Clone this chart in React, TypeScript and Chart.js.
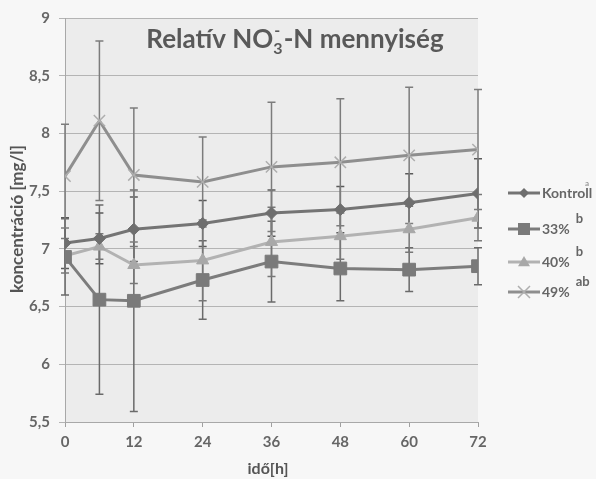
import React, { useEffect, useRef } from "react";
import { Chart, registerables } from "chart.js";
Chart.register(...registerables);

const hours = [0, 6, 12, 24, 36, 48, 60, 72];
const xTicks = [0, 12, 24, 36, 48, 60, 72];
const seriesNames = ["Kontroll", "33%", "40%", "49%"];
const significance = ["a", "b", "b", "ab"];
const kontroll = [7.05, 7.09, 7.17, 7.22, 7.31, 7.34, 7.4, 7.48];
const kontrollErr = [0.22, 0.22, 0.28, 0.2, 0.2, 0.2, 0.25, 0.3];
const p33 = [6.93, 6.56, 6.55, 6.73, 6.89, 6.83, 6.82, 6.85];
const p33Err = [0.33, 0.82, 0.96, 0.34, 0.35, 0.28, 0.19, 0.16];
const p40 = [6.94, 7.02, 6.86, 6.9, 7.06, 7.11, 7.17, 7.27];
const p40Err = [0.15, 0.11, 0.16, 0.35, 0.3, 0.2, 0.2, 0.2];
const p49 = [7.63, 8.11, 7.64, 7.58, 7.71, 7.75, 7.81, 7.86];
const p49Err = [0.45, 0.69, 0.58, 0.39, 0.56, 0.55, 0.59, 0.52];
const yMin = 5.5;
const yMax = 9;
const yStep = 0.5;

const values = [kontroll, p33, p40, p49];
const errors = [kontrollErr, p33Err, p40Err, p49Err];
const lineColors = ["#747474", "#7c7c7c", "#b2b2b2", "#8e8e8e"];
const markerColors = ["#6e6e6e", "#7a7a7a", "#a8a8a8", "#aeaeae"];
const errColors = ["#5a5a5a", "#6a6a6a", "#777777", "#7c7c7c"];
const markerStyles = ["rectRot", "rect", "triangle", "crossRot"];
const markerRadius = [6, 9, 7, 8];
const FONT = "Lato, 'Open Sans', sans-serif";

function drawMarker(ctx: any, style: string, x: number, y: number, r: number, color: string) {
  ctx.save();
  ctx.fillStyle = color;
  ctx.strokeStyle = color;
  ctx.beginPath();
  if (style === "rectRot") {
    ctx.moveTo(x, y - r);
    ctx.lineTo(x + r, y);
    ctx.lineTo(x, y + r);
    ctx.lineTo(x - r, y);
    ctx.closePath();
    ctx.fill();
  } else if (style === "rect") {
    ctx.rect(x - r, y - r, 2 * r, 2 * r);
    ctx.fill();
  } else if (style === "triangle") {
    ctx.moveTo(x, y - r);
    ctx.lineTo(x + r, y + r * 0.7);
    ctx.lineTo(x - r, y + r * 0.7);
    ctx.closePath();
    ctx.fill();
  } else {
    ctx.lineWidth = 1.5;
    ctx.moveTo(x - r, y - r);
    ctx.lineTo(x + r, y + r);
    ctx.moveTo(x + r, y - r);
    ctx.lineTo(x - r, y + r);
    ctx.stroke();
  }
  ctx.restore();
}

const bgPlugin = {
  id: "bg",
  beforeDraw(chart: any) {
    const { ctx, chartArea: a } = chart;
    ctx.save();
    ctx.fillStyle = "#f7f7f7";
    ctx.fillRect(0, 0, chart.width, chart.height);
    ctx.fillStyle = "#ececec";
    ctx.fillRect(a.left, a.top, a.right - a.left, a.bottom - a.top);
    ctx.restore();
  },
};

const errPlugin = {
  id: "errbars",
  beforeDatasetsDraw(chart: any) {
    const { ctx, scales } = chart;
    ctx.save();
    values.forEach((vals, s) => {
      ctx.strokeStyle = errColors[s];
      ctx.lineWidth = 1.5;
      vals.forEach((v, i) => {
        const x = scales.x.getPixelForValue(hours[i]);
        const yt = scales.y.getPixelForValue(v + errors[s][i]);
        const yb = scales.y.getPixelForValue(v - errors[s][i]);
        ctx.beginPath();
        ctx.moveTo(x, yt);
        ctx.lineTo(x, yb);
        ctx.moveTo(x - 4, yt);
        ctx.lineTo(x + 4, yt);
        ctx.moveTo(x - 4, yb);
        ctx.lineTo(x + 4, yb);
        ctx.stroke();
      });
    });
    ctx.restore();
  },
};

const textPlugin = {
  id: "texts",
  afterDraw(chart: any) {
    const { ctx, chartArea: a } = chart;
    ctx.save();
    // title
    ctx.fillStyle = "#595959";
    ctx.textBaseline = "alphabetic";
    ctx.textAlign = "left";
    const big = `bold 26px ${FONT}`;
    const small = `bold 16px ${FONT}`;
    const p1 = "Relatív NO";
    const p3 = "-N mennyiség";
    ctx.font = big;
    const w1 = ctx.measureText(p1).width;
    const w3 = ctx.measureText(p3).width;
    ctx.font = small;
    const w2 = ctx.measureText("3").width + 1;
    const total = w1 + w2 + w3;
    let x = 295 - total / 2;
    const base = 48;
    ctx.font = big;
    ctx.fillText(p1, x, base);
    x += w1;
    ctx.font = small;
    ctx.fillText("3", x, base + 6);
    ctx.fillText("-", x + 1, base - 12);
    x += w2;
    ctx.font = big;
    ctx.fillText(p3, x, base);

    // axis titles
    ctx.fillStyle = "#555555";
    ctx.textAlign = "center";
    ctx.textBaseline = "middle";
    ctx.font = `bold 16px ${FONT}`;
    ctx.fillText("idő[h]", 268, 469);
    ctx.save();
    ctx.translate(18, 219);
    ctx.rotate(-Math.PI / 2);
    ctx.font = `bold 17px ${FONT}`;
    ctx.fillText("koncentráció [mg/l]", 0, 0);
    ctx.restore();

    // legend
    const rows = [193, 229, 262, 292];
    seriesNames.forEach((name, i) => {
      const y = rows[i];
      ctx.strokeStyle = lineColors[i];
      ctx.lineWidth = 3;
      ctx.beginPath();
      ctx.moveTo(508, y);
      ctx.lineTo(540, y);
      ctx.stroke();
      drawMarker(ctx, markerStyles[i], 524, y, [5, 6, 6, 6][i], markerColors[i]);
      ctx.fillStyle = "#666666";
      ctx.font = `bold 14px ${FONT}`;
      ctx.textAlign = "left";
      ctx.textBaseline = "middle";
      ctx.fillText(name, 542, y);
      const tw = ctx.measureText(name).width;
      if (i === 0) {
        ctx.font = `bold 8px ${FONT}`;
        ctx.fillStyle = "#9a9a9a";
        ctx.fillText(significance[i], 585, y - 10);
      } else {
        ctx.font = `bold 13px ${FONT}`;
        ctx.fillStyle = "#666666";
        ctx.fillText(significance[i], 542 + tw + 6, y - 10);
      }
    });
    ctx.restore();
  },
};

export default function App() {
  const ref = useRef<HTMLCanvasElement>(null);
  useEffect(() => {
    if (!ref.current) return;
    const chart = new Chart(ref.current, {
      type: "line",
      data: {
        datasets: values.map((vals, s) => ({
          label: seriesNames[s],
          data: vals.map((v, i) => ({ x: hours[i], y: v })),
          borderColor: lineColors[s],
          backgroundColor: markerColors[s],
          pointBackgroundColor: markerColors[s],
          pointBorderColor: markerColors[s],
          pointStyle: markerStyles[s] as any,
          pointRadius: markerRadius[s],
          pointBorderWidth: markerStyles[s] === "crossRot" ? 1.5 : 1,
          borderWidth: 3,
          tension: 0,
          fill: false,
        })),
      },
      options: {
        animation: false,
        responsive: false,
        devicePixelRatio: 1,
        layout: { padding: { top: 15, right: 118, left: 0, bottom: 0 } },
        plugins: {
          legend: { display: false },
          tooltip: { enabled: false },
          title: { display: false },
        },
        scales: {
          x: {
            type: "linear",
            min: 0,
            max: 72,
            afterBuildTicks: (scale: any) => {
              scale.ticks = xTicks.map((v) => ({ value: v }));
            },
            afterFit: (scale: any) => {
              scale.height = 57;
            },
            ticks: {
              color: "#666666",
              font: { family: FONT, size: 15, weight: "bold" },
              padding: 6,
              maxRotation: 0,
            },
            grid: {
              drawOnChartArea: false,
              drawTicks: true,
              tickLength: 5,
              color: "#a0a0a0",
            },
            border: { color: "#a8a8a8", width: 1 },
          },
          y: {
            type: "linear",
            min: yMin,
            max: yMax,
            ticks: {
              stepSize: yStep,
              color: "#666666",
              font: { family: FONT, size: 15, weight: "bold" },
              padding: 9,
              callback: (v: any) => String(v).replace(".", ","),
            },
            afterFit: (scale: any) => {
              scale.width = 65;
            },
            grid: {
              color: "#b4b4b4",
              lineWidth: 1,
              tickLength: 6,
            },
            border: { color: "#a8a8a8", width: 1 },
          },
        },
      },
      plugins: [bgPlugin, errPlugin, textPlugin],
    });
    return () => chart.destroy();
  }, []);
  return (
    <div style={{ position: "fixed", left: 0, top: 0, width: 596, height: 479 }}>
      <canvas ref={ref} width={596} height={479} style={{ width: 596, height: 479 }} />
    </div>
  );
}
